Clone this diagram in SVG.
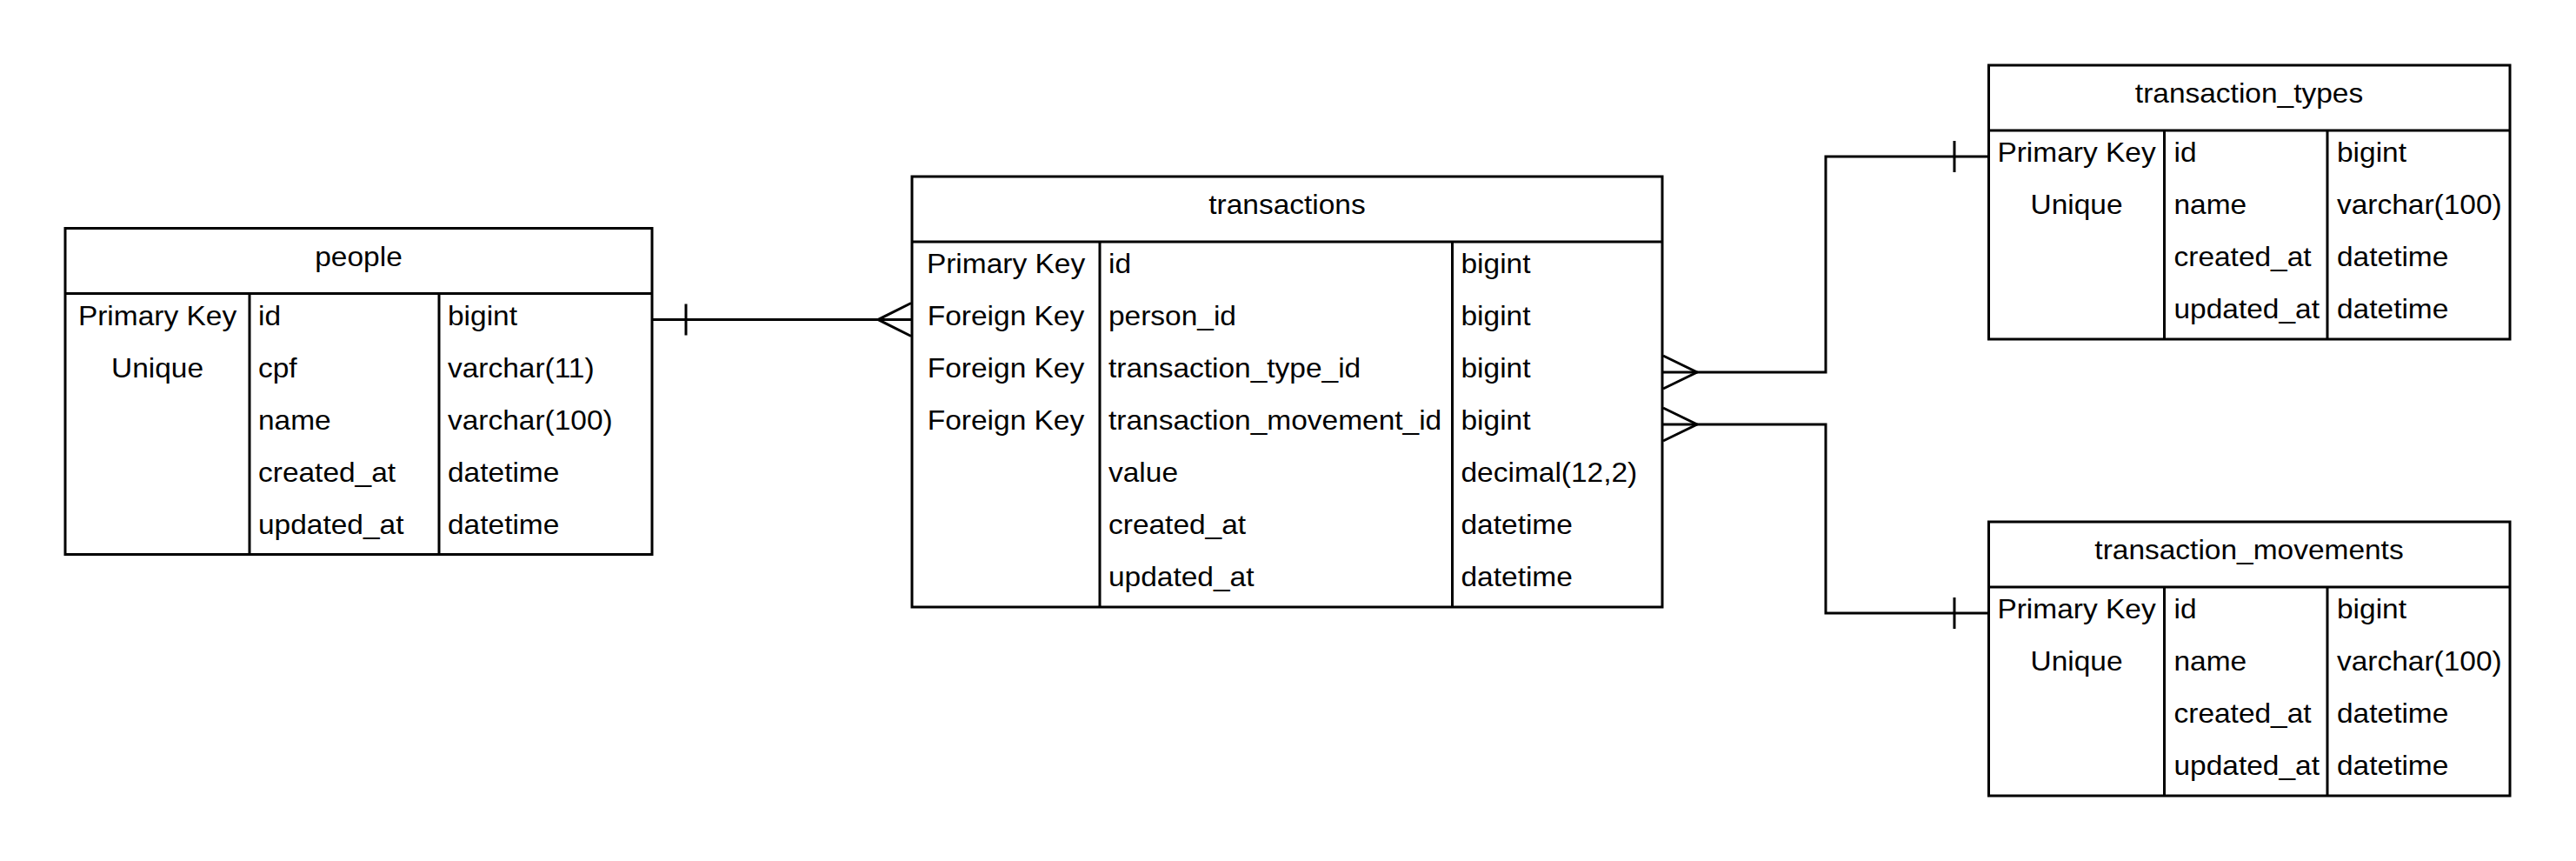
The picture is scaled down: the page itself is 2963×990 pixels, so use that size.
<svg xmlns="http://www.w3.org/2000/svg" width="2963" height="990" viewBox="0 0 2963 990">
<style>
.box{fill:#fff;stroke:#000;stroke-width:3}
.ln{fill:none;stroke:#000;stroke-width:3}
text{font-family:"Liberation Sans",Arial,sans-serif;font-size:31px;fill:#000}
.c{text-anchor:middle}
</style>
<rect width="2963" height="990" fill="#fff"/>
<g id="connectors">
  <path class="ln" d="M750,367.5 H1049"/>
  <path class="ln" d="M789,349.5 V385.5"/>
  <path class="ln" d="M1048,348.5 L1010,367.5 L1048,386.5"/>
  <path class="ln" d="M1912,428 H2100 V180 H2287.5"/>
  <path class="ln" d="M2248,162 V198"/>
  <path class="ln" d="M1913,409 L1952,428 L1913,447"/>
  <path class="ln" d="M1912,488 H2100 V705 H2287.5"/>
  <path class="ln" d="M2248,687 V723"/>
  <path class="ln" d="M1913,469 L1952,488 L1913,507"/>
</g>
<g id="people">
  <rect class="box" x="75" y="262.5" width="675" height="375"/>
  <path class="ln" d="M75,337.5 H750 M287,337.5 V637.5 M505,337.5 V637.5"/>
  <g transform="translate(412.5,0) scale(1.08,1)"><text class="c" x="0" y="306">people</text></g>
  <g transform="translate(181,0) scale(1.08,1)">
    <text class="c" x="0" y="374">Primary Key</text>
    <text class="c" x="0" y="434">Unique</text>
  </g>
  <g transform="translate(297,0) scale(1.08,1)">
    <text x="0" y="374">id</text>
    <text x="0" y="434">cpf</text>
    <text x="0" y="494">name</text>
    <text x="0" y="554">created_at</text>
    <text x="0" y="614">updated_at</text>
  </g>
  <g transform="translate(515,0) scale(1.08,1)">
    <text x="0" y="374">bigint</text>
    <text x="0" y="434">varchar(11)</text>
    <text x="0" y="494">varchar(100)</text>
    <text x="0" y="554">datetime</text>
    <text x="0" y="614">datetime</text>
  </g>
</g>
<g id="transactions">
  <rect class="box" x="1049" y="203" width="863" height="495"/>
  <path class="ln" d="M1049,278 H1912 M1265,278 V698 M1670.5,278 V698"/>
  <g transform="translate(1480.5,0) scale(1.08,1)"><text class="c" x="0" y="246.5">transactions</text></g>
  <g transform="translate(1157,0) scale(1.08,1)">
    <text class="c" x="0" y="314">Primary Key</text>
    <text class="c" x="0" y="374">Foreign Key</text>
    <text class="c" x="0" y="434">Foreign Key</text>
    <text class="c" x="0" y="494">Foreign Key</text>
  </g>
  <g transform="translate(1275,0) scale(1.08,1)">
    <text x="0" y="314">id</text>
    <text x="0" y="374">person_id</text>
    <text x="0" y="434">transaction_type_id</text>
    <text x="0" y="494">transaction_movement_id</text>
    <text x="0" y="554">value</text>
    <text x="0" y="614">created_at</text>
    <text x="0" y="674">updated_at</text>
  </g>
  <g transform="translate(1680.5,0) scale(1.08,1)">
    <text x="0" y="314">bigint</text>
    <text x="0" y="374">bigint</text>
    <text x="0" y="434">bigint</text>
    <text x="0" y="494">bigint</text>
    <text x="0" y="554">decimal(12,2)</text>
    <text x="0" y="614">datetime</text>
    <text x="0" y="674">datetime</text>
  </g>
</g>
<g id="transaction_types">
  <rect class="box" x="2287.5" y="75" width="599.5" height="315"/>
  <path class="ln" d="M2287.5,150 H2887 M2489.5,150 V390 M2677,150 V390"/>
  <g transform="translate(2587,0) scale(1.08,1)"><text class="c" x="0" y="118.5">transaction_types</text></g>
  <g transform="translate(2388.5,0) scale(1.08,1)">
    <text class="c" x="0" y="186">Primary Key</text>
    <text class="c" x="0" y="246">Unique</text>
  </g>
  <g transform="translate(2500.5,0) scale(1.08,1)">
    <text x="0" y="186">id</text>
    <text x="0" y="246">name</text>
    <text x="0" y="306">created_at</text>
    <text x="0" y="366">updated_at</text>
  </g>
  <g transform="translate(2688,0) scale(1.08,1)">
    <text x="0" y="186">bigint</text>
    <text x="0" y="246">varchar(100)</text>
    <text x="0" y="306">datetime</text>
    <text x="0" y="366">datetime</text>
  </g>
</g>
<g id="transaction_movements">
  <rect class="box" x="2287.5" y="600" width="599.5" height="315"/>
  <path class="ln" d="M2287.5,675 H2887 M2489.5,675 V915 M2677,675 V915"/>
  <g transform="translate(2587,0) scale(1.08,1)"><text class="c" x="0" y="643.5">transaction_movements</text></g>
  <g transform="translate(2388.5,0) scale(1.08,1)">
    <text class="c" x="0" y="711">Primary Key</text>
    <text class="c" x="0" y="771">Unique</text>
  </g>
  <g transform="translate(2500.5,0) scale(1.08,1)">
    <text x="0" y="711">id</text>
    <text x="0" y="771">name</text>
    <text x="0" y="831">created_at</text>
    <text x="0" y="891">updated_at</text>
  </g>
  <g transform="translate(2688,0) scale(1.08,1)">
    <text x="0" y="711">bigint</text>
    <text x="0" y="771">varchar(100)</text>
    <text x="0" y="831">datetime</text>
    <text x="0" y="891">datetime</text>
  </g>
</g>
</svg>
